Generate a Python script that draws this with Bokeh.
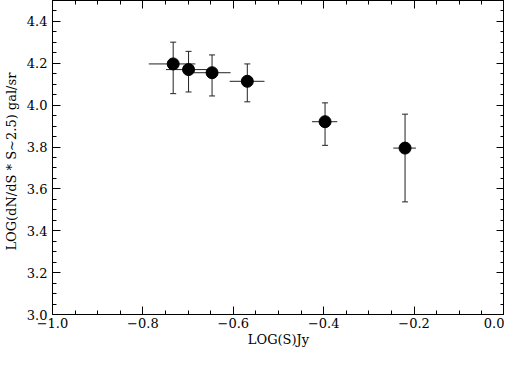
from bokeh.plotting import figure
from bokeh.models import (ColumnDataSource, LinearAxis, FixedTicker, Range1d,
                          Whisker, TeeHead, CustomJSTickFormatter)
from bokeh.embed import file_html
from bokeh.resources import INLINE

# data
log_s = [-0.733, -0.699, -0.647, -0.569, -0.397, -0.220]
log_s_lo = [-0.787, -0.749, -0.688, -0.608, -0.426, -0.246]
log_s_hi = [-0.684, -0.648, -0.606, -0.531, -0.370, -0.196]
log_n = [4.197, 4.170, 4.155, 4.114, 3.921, 3.795]
log_n_lo = [4.055, 4.063, 4.044, 4.016, 3.808, 3.538]
log_n_hi = [4.301, 4.257, 4.240, 4.197, 4.011, 3.957]

x_ticks = [-1.0, -0.8, -0.6, -0.4, -0.2, 0.0]
x_labels = ["\u22121.0", "\u22120.8", "\u22120.6", "\u22120.4", "\u22120.2", "0.0"]
y_ticks = [3.0, 3.2, 3.4, 3.6, 3.8, 4.0, 4.2, 4.4]
y_labels = ["3.0", "3.2", "3.4", "3.6", "3.8", "4.0", "4.2", "4.4"]
x_minor = [round(-1.0 + 0.05 * i, 2) for i in range(21)]
y_minor = [round(3.0 + 0.05 * i, 2) for i in range(31)]

FONT = "DejaVu Serif"
FS = "13px"

src = ColumnDataSource(dict(x=log_s, xlo=log_s_lo, xhi=log_s_hi,
                            y=log_n, ylo=log_n_lo, yhi=log_n_hi))

p = figure(width=504, height=349, output_backend="svg", toolbar_location=None,
           x_range=Range1d(-1.0, 0.0), y_range=Range1d(3.0, 4.5),
           x_axis_label="LOG(S)Jy",
           y_axis_label="LOG(dN/dS  *  S~2.5) gal/sr",
           min_border_left=52, min_border_right=0, min_border_top=0,
           min_border_bottom=0)
p.grid.visible = False
p.outline_line_color = "black"
p.outline_line_width = 1
p.background_fill_color = "white"
p.border_fill_color = "white"

def style_axis(ax, ticks, minor, labels, show_labels=True):
    ax.ticker = FixedTicker(ticks=ticks, minor_ticks=minor)
    ax.major_tick_in = 8
    ax.major_tick_out = 0
    ax.minor_tick_in = 4
    ax.minor_tick_out = 0
    ax.axis_line_color = "black"
    ax.major_tick_line_color = "black"
    ax.minor_tick_line_color = "black"
    ax.major_label_text_font = FONT
    ax.axis_label_text_font = FONT
    ax.axis_label_text_font_style = "normal"
    ax.axis_label_text_font_size = FS
    ax.major_label_text_font_size = FS
    ax.major_label_text_color = "black"
    ax.axis_label_text_color = "black"
    if show_labels:
        ax.major_label_overrides = {t: l for t, l in zip(ticks, labels)}
    else:
        ax.formatter = CustomJSTickFormatter(code="return '';")
        ax.major_label_standoff = 0

style_axis(p.xaxis[0], x_ticks, x_minor, x_labels)
style_axis(p.yaxis[0], y_ticks, y_minor, y_labels)
p.xaxis[0].major_label_standoff = 3
p.xaxis[0].axis_label_standoff = 1
p.yaxis[0].major_label_standoff = 5
p.yaxis[0].axis_label_standoff = 5

top = LinearAxis()
style_axis(top, x_ticks, x_minor, x_labels, show_labels=False)
p.add_layout(top, "above")
right = LinearAxis()
style_axis(right, y_ticks, y_minor, y_labels, show_labels=False)
p.add_layout(right, "right")

# horizontal error bars (no caps)
p.segment(x0="xlo", y0="y", x1="xhi", y1="y", source=src,
          line_color="#222222", line_width=1)
# vertical error bars with small caps
wh = Whisker(source=src, base="x", lower="ylo", upper="yhi", dimension="height",
             line_color="#222222", line_width=1,
             upper_head=TeeHead(size=6, line_color="#222222", line_width=1),
             lower_head=TeeHead(size=6, line_color="#222222", line_width=1))
p.add_layout(wh)
p.scatter(x="x", y="y", source=src, size=12, marker="circle",
          fill_color="black", line_color="black")

open("out.html", "w").write(file_html(p, INLINE))
